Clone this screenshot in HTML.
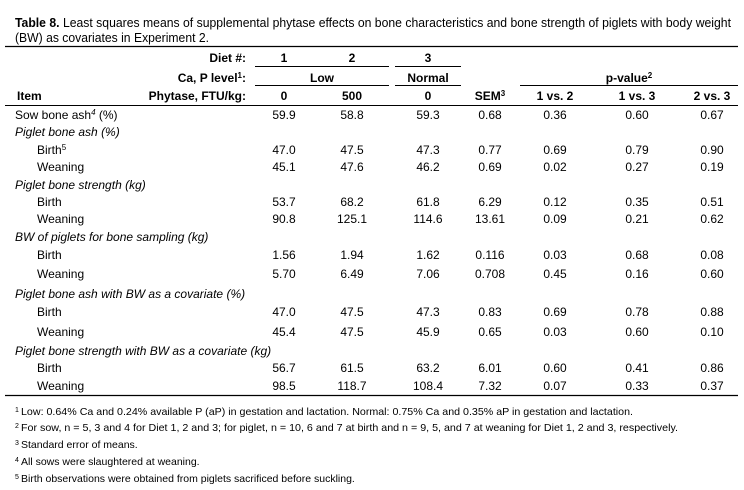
<!DOCTYPE html>
<html><head><meta charset="utf-8">
<style>
html,body{margin:0;padding:0;background:#fff;}
svg{display:block;font-family:"Liberation Sans",Arial,sans-serif;}
.b{font-weight:bold;}
.i{font-style:italic;}
</style></head>
<body>
<svg id="tbl" width="744" height="490" viewBox="0 0 744 490" xmlns="http://www.w3.org/2000/svg">
<g font-size="13" fill="#000">
<text x="15" y="27" textLength="716" lengthAdjust="spacingAndGlyphs"><tspan class="b" font-weight="bold">Table 8.</tspan> Least squares means of supplemental phytase effects on bone characteristics and bone strength of piglets with body weight</text>
<text x="15" y="42" textLength="194" lengthAdjust="spacingAndGlyphs">(BW) as covariates in Experiment 2.</text>
</g>
<g stroke="#000">
<line x1="5" y1="46.5" x2="738" y2="46.5" stroke-width="1.3"/>
<line x1="255" y1="66.5" x2="389" y2="66.5"/>
<line x1="395" y1="66.5" x2="461" y2="66.5"/>
<line x1="255" y1="85.5" x2="389" y2="85.5"/>
<line x1="395" y1="85.5" x2="461" y2="85.5"/>
<line x1="520" y1="85.5" x2="738" y2="85.5"/>
<line x1="5" y1="105.5" x2="738" y2="105.5"/>
<line x1="5" y1="395.5" x2="738" y2="395.5" stroke-width="1.3"/>
</g>
<g font-size="12" font-weight="bold" fill="#000">
<text x="246" y="62" text-anchor="end">Diet #:</text>
<text x="246" y="82" text-anchor="end">Ca, P level<tspan font-size="8" dy="-4">1</tspan><tspan dy="4">:</tspan></text>
<text x="246" y="100" text-anchor="end">Phytase, FTU/kg:</text>
<text x="17" y="100">Item</text>
<text x="284" y="62" text-anchor="middle">1</text>
<text x="352" y="62" text-anchor="middle">2</text>
<text x="428" y="62" text-anchor="middle">3</text>
<text x="322" y="82" text-anchor="middle">Low</text>
<text x="428" y="82" text-anchor="middle">Normal</text>
<text x="629" y="82" text-anchor="middle">p-value<tspan font-size="8" dy="-4">2</tspan></text>
<text x="284" y="100" text-anchor="middle">0</text>
<text x="352" y="100" text-anchor="middle">500</text>
<text x="428" y="100" text-anchor="middle">0</text>
<text x="490" y="100" text-anchor="middle">SEM<tspan font-size="8" dy="-4">3</tspan></text>
<text x="555" y="100" text-anchor="middle">1 vs. 2</text>
<text x="637" y="100" text-anchor="middle">1 vs. 3</text>
<text x="712" y="100" text-anchor="middle">2 vs. 3</text>
</g>
<g id="body" font-size="12" fill="#000"></g>
<g font-size="10.5" fill="#000">
<text x="15" y="415"><tspan font-size="7" dy="-3">1</tspan><tspan dy="3" x="21" textLength="612" lengthAdjust="spacingAndGlyphs">Low: 0.64% Ca and 0.24% available P (aP) in gestation and lactation. Normal: 0.75% Ca and 0.35% aP in gestation and lactation.</tspan></text>
<text x="15" y="431"><tspan font-size="7" dy="-3">2</tspan><tspan dy="3" x="21" textLength="657" lengthAdjust="spacingAndGlyphs">For sow, n = 5, 3 and 4 for Diet 1, 2 and 3; for piglet, n = 10, 6 and 7 at birth and n = 9, 5, and 7 at weaning for Diet 1, 2 and 3, respectively.</tspan></text>
<text x="15" y="448"><tspan font-size="7" dy="-3">3</tspan><tspan dy="3" x="21">Standard error of means.</tspan></text>
<text x="15" y="465"><tspan font-size="7" dy="-3">4</tspan><tspan dy="3" x="21">All sows were slaughtered at weaning.</tspan></text>
<text x="15" y="482"><tspan font-size="7" dy="-3">5</tspan><tspan dy="3" x="21">Birth observations were obtained from piglets sacrificed before suckling.</tspan></text>
</g>
</svg>
<script>
const rowLabels = ["Sow bone ash","Piglet bone ash (%)","Birth","Weaning","Piglet bone strength (kg)","Birth","Weaning","BW of piglets for bone sampling (kg)","Birth","Weaning","Piglet bone ash with BW as a covariate (%)","Birth","Weaning","Piglet bone strength with BW as a covariate (kg)","Birth","Weaning"];
const rowKinds = ["top","cat","sub","sub","cat","sub","sub","cat","sub","sub","cat","sub","sub","cat","sub","sub"];
const diet1 = ["59.9","","47.0","45.1","","53.7","90.8","","1.56","5.70","","47.0","45.4","","56.7","98.5"];
const diet2 = ["58.8","","47.5","47.6","","68.2","125.1","","1.94","6.49","","47.5","47.5","","61.5","118.7"];
const diet3 = ["59.3","","47.3","46.2","","61.8","114.6","","1.62","7.06","","47.3","45.9","","63.2","108.4"];
const sem = ["0.68","","0.77","0.69","","6.29","13.61","","0.116","0.708","","0.83","0.65","","6.01","7.32"];
const p12 = ["0.36","","0.69","0.02","","0.12","0.09","","0.03","0.45","","0.69","0.03","","0.60","0.07"];
const p13 = ["0.60","","0.79","0.27","","0.35","0.21","","0.68","0.16","","0.78","0.60","","0.41","0.33"];
const p23 = ["0.67","","0.90","0.19","","0.51","0.62","","0.08","0.60","","0.88","0.10","","0.86","0.37"];
const rowY = [115,132,150,167,185,202,219,237,255,274,294,312,332,351,368,386];
const NS = "http://www.w3.org/2000/svg";
const body = document.getElementById('body');
function txt(x, y, s, anchor, cls) {
  const t = document.createElementNS(NS, 'text');
  t.setAttribute('x', x);
  t.setAttribute('y', y);
  if (anchor) t.setAttribute('text-anchor', anchor);
  if (cls === 'i') t.setAttribute('font-style', 'italic');
  t.textContent = s;
  body.appendChild(t);
  return t;
}
const cols = [[diet1,284],[diet2,352],[diet3,428],[sem,490],[p12,555],[p13,637],[p23,712]];
rowLabels.forEach((lab, i) => {
  const y = rowY[i] + 4;
  let t;
  if (rowKinds[i] === 'top') {
    t = txt(15, y, lab);
    const s1 = document.createElementNS(NS, 'tspan');
    s1.setAttribute('font-size', '8'); s1.setAttribute('dy', '-4'); s1.setAttribute('font-style', 'italic');
    s1.textContent = '4'; t.appendChild(s1);
    const s2 = document.createElementNS(NS, 'tspan');
    s2.setAttribute('dy', '4'); s2.textContent = ' (%)'; t.appendChild(s2);
  } else if (rowKinds[i] === 'cat') {
    t = txt(15, y, lab, null, 'i');
  } else {
    t = txt(37, y, lab);
    if (i === 2) {
      const s = document.createElementNS(NS, 'tspan');
      s.setAttribute('font-size', '8'); s.setAttribute('dy', '-4');
      s.textContent = '5'; t.appendChild(s);
    }
  }
  
  
  cols.forEach(([arr, x]) => {
    if (arr[i] !== '') {
      const c = txt(x, y, arr[i], 'middle');
      
      
    }
  });
});
</script>
</body></html>
